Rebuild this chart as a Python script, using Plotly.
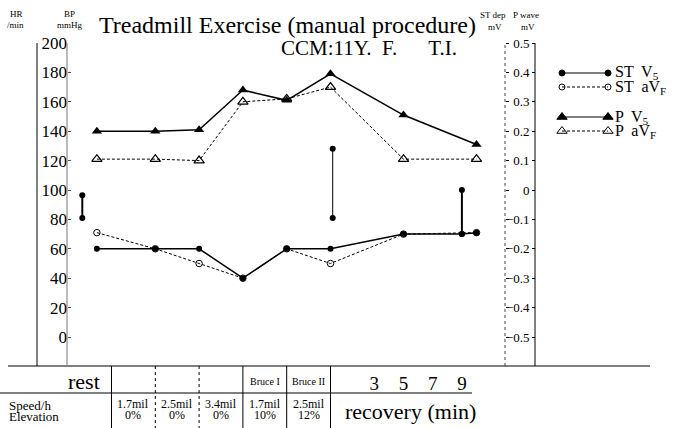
import plotly.graph_objects as go

W, H = 690, 428
SERIF = "Liberation Serif"

# ---------------- data ----------------
time_p = [-16, -12, -9, -6, -3, 0, 5, 10]
p_v5 = [0.20, 0.20, 0.205, 0.34, 0.305, 0.395, 0.255, 0.155]
p_avf = [0.105, 0.105, 0.10, 0.30, 0.31, 0.35, 0.105, 0.105]

time_st_v5 = [-16, -12, -9, -6, -3, 0, 5, 9, 10]
st_v5 = [-0.20, -0.20, -0.20, -0.30, -0.20, -0.20, -0.15, -0.15, -0.145]
time_st_avf = [-16, -12, -9, -6, -3, 0, 5, 10]
st_avf = [-0.145, -0.20, -0.25, -0.30, -0.20, -0.25, -0.15, -0.145]

bp_time = [-17, 0.15, 9]
bp_sys = [96.5, 128, 100]
bp_dia = [81, 81, 70]

stage_bounds = [-15, -12, -9, -6, -3, 0]
stage_speed = ["1.7mil", "2.5mil", "3.4mil", "1.7mil", "2.5mil"]
stage_elev = ["0%", "0%", "0%", "10%", "12%"]
stage_name = ["", "", "", "Bruce I", "Bruce II"]
recovery_ticks = [3, 5, 7, 9]
hr_ticks = [0, 20, 40, 60, 80, 100, 120, 140, 160, 180, 200]
mv_ticks = [0.5, 0.4, 0.3, 0.2, 0.1, 0.0, -0.1, -0.2, -0.3, -0.4, -0.5]
mv_ticktext = ["0.5", "0.4", "0.3", "0.2", "0.1", "0", "\u22120.1", "\u22120.2",
               "\u22120.3", "\u22120.4", "\u22120.5"]

# ---------------- geometry (pixels) ----------------
X_T0 = 330.5          # pixel of t = 0
PX_PER_MIN = 14.6
Y_L0 = 337.0          # pixel of HR/BP = 0
PX_PER_UNIT = 1.47
Y_TOP, Y_BOT = 43.0, 366.0

def px(x):
    return x / W

def py(y):
    return 1 - y / H

x_range = [(0 - X_T0) / PX_PER_MIN, (W - X_T0) / PX_PER_MIN]
L_lo = -(Y_BOT - Y_L0) / PX_PER_UNIT
L_hi = (Y_L0 - Y_TOP) / PX_PER_UNIT
mv_range = [(L_lo - 100) / 200, (L_hi - 100) / 200]
ydom = [py(Y_BOT), py(Y_TOP)]

fig = go.Figure()

# BP bars
bp_widths = [2, 1, 2]
for t, s, d, w in zip(bp_time, bp_sys, bp_dia, bp_widths):
    fig.add_trace(go.Scatter(x=[t, t], y=[s, d], mode="lines+markers", yaxis="y",
                             line=dict(color="black", width=w),
                             marker=dict(symbol="circle", size=6, color="black"),
                             showlegend=False, hoverinfo="skip"))

# ST traces
fig.add_trace(go.Scatter(x=time_st_avf, y=st_avf, yaxis="y2", mode="lines+markers",
                         line=dict(color="black", width=1, dash="3px,2px"),
                         marker=dict(symbol="circle-open", size=6.5, color="black",
                                     line=dict(width=1)),
                         showlegend=False, hoverinfo="skip"))
fig.add_trace(go.Scatter(x=time_st_v5, y=st_v5, yaxis="y2", mode="lines+markers",
                         line=dict(color="black", width=1.5),
                         marker=dict(symbol="circle", size=6, color="black"),
                         showlegend=False, hoverinfo="skip"))
# P traces
fig.add_trace(go.Scatter(x=time_p, y=p_avf, yaxis="y4", mode="lines+markers",
                         line=dict(color="black", width=1, dash="3px,2px"),
                         marker=dict(symbol="triangle-up-open", size=9, color="black",
                                     line=dict(width=1.2)),
                         showlegend=False, hoverinfo="skip"))
fig.add_trace(go.Scatter(x=time_p, y=p_v5, yaxis="y4", mode="lines+markers",
                         line=dict(color="black", width=1.5),
                         marker=dict(symbol="triangle-up", size=9, color="black"),
                         showlegend=False, hoverinfo="skip"))

# ---------------- legend keys (own pixel subplot) ----------------
LEG_X0, LEG_X1, LEG_TX = 562, 608, 613
leg_rows = [
    (73, "solid", 1.2, "circle", 6, "ST  V<sub>5</sub>"),
    (87, "3px,2px", 1, "circle-open", 6, "ST  aV<sub>F</sub>"),
    (117, "solid", 1.2, "triangle-up", 9, "P  V<sub>5</sub>"),
    (131, "3px,2px", 1, "triangle-up-open", 9, "P  aV<sub>F</sub>"),
]
annotations = []
for yy, dash, lw, sym, ms, label in leg_rows:
    fig.add_trace(go.Scatter(x=[LEG_X0, LEG_X1], y=[yy, yy], xaxis="x2", yaxis="y5",
                             mode="lines+markers",
                             line=dict(color="black", width=lw, dash=dash),
                             marker=dict(symbol=sym, size=ms, color="black",
                                         line=dict(width=1, color="black")),
                             showlegend=False, hoverinfo="skip"))
    annotations.append(dict(x=px(LEG_TX), y=py(yy), xref="paper", yref="paper",
                            text=label, showarrow=False, xanchor="left", yanchor="middle",
                            font=dict(family=SERIF, size=16, color="black")))

# ---------------- texts ----------------
def txt(x, y, text, size, anchor="center", **kw):
    annotations.append(dict(x=px(x), y=py(y), xref="paper", yref="paper", text=text,
                            showarrow=False, xanchor=anchor, yanchor="middle",
                            font=dict(family=SERIF, size=size, color="black"), **kw))

txt(97, 25, "Treadmill Exercise (manual procedure)", 24, anchor="left")
txt(279, 48, "CCM:11Y.&nbsp; F.&nbsp;&nbsp;&nbsp;&nbsp;&nbsp; T.I.", 21, anchor="left")
txt(16, 14, "HR", 9)
txt(15, 25, "/min", 9)
txt(69, 14, "BP", 9)
txt(70, 25, "mmHg", 9)
txt(493, 15, "ST dep", 9)
txt(495, 27, "mV", 9)
txt(526, 15, "P wave", 9)
txt(528, 27, "mV", 9)

txt(102, 381, "rest", 22, anchor="right")
txt(7, 405, "Speed/h", 13, anchor="left")
txt(7, 416, "Elevation", 13, anchor="left")
txt(343, 411, "recovery (min)", 22, anchor="left")

for i in range(len(stage_speed)):
    mid = (stage_bounds[i] + stage_bounds[i + 1]) / 2
    for yy, t, s in [(381, stage_name[i], 10), (404, stage_speed[i], 12),
                     (415, stage_elev[i], 12)]:
        if t:
            annotations.append(dict(x=mid, y=py(yy), xref="x", yref="paper", text=t,
                                    showarrow=False, xanchor="center", yanchor="middle",
                                    font=dict(family=SERIF, size=s, color="black")))

# ---------------- shapes ----------------
shapes = []
# baseline
shapes.append(dict(type="line", xref="paper", yref="paper", x0=px(8), x1=px(650),
                   y0=py(Y_BOT), y1=py(Y_BOT), line=dict(color="black", width=1)))
# row divider in table
shapes.append(dict(type="line", xref="paper", yref="paper", x0=0, x1=px(472),
                   y0=py(393), y1=py(393), line=dict(color="black", width=1)))
# stage boundaries
for i, b in enumerate(stage_bounds):
    dotted = i in (1, 2)
    shapes.append(dict(type="line", xref="x", yref="paper", x0=b, x1=b,
                       y0=py(Y_BOT), y1=0,
                       line=dict(color="black", width=1, dash="dot" if dotted else "solid")))
# axis lines
for xl, col, dash in [(37, "black", "solid"), (67, "#777", "solid"),
                      (505, "#444", "dot"), (535, "black", "solid")]:
    shapes.append(dict(type="line", xref="paper", yref="paper", x0=px(xl), x1=px(xl),
                       y0=py(Y_BOT), y1=py(Y_TOP), line=dict(color=col, width=1, dash=dash)))

fig.update_layout(
    width=W, height=H,
    margin=dict(l=0, r=0, t=0, b=0),
    paper_bgcolor="white", plot_bgcolor="rgba(0,0,0,0)",
    showlegend=False,
    font=dict(family=SERIF, color="black"),
    xaxis=dict(domain=[0, 1], range=x_range, anchor="y", showgrid=False, zeroline=False,
               showline=False, tickmode="array", tickvals=recovery_ticks,
               ticktext=[str(v) for v in recovery_ticks], ticks="",
               tickfont=dict(family=SERIF, size=19, color="black"),
               ticklabelstandoff=4, automargin=False, fixedrange=True),
    yaxis=dict(domain=ydom, range=[L_lo, L_hi], anchor="free", position=px(67),
               side="left", showgrid=False, zeroline=False, showline=False,
               ticks="inside", ticklen=3,
               tickcolor="#555", tickmode="array", tickvals=hr_ticks,
               tickfont=dict(family=SERIF, size=17, color="black"),
               automargin=False, fixedrange=True),
    yaxis3=dict(range=[L_lo, L_hi], overlaying="y", anchor="free", position=px(37),
                side="right", showgrid=False, zeroline=False, showline=False,
                ticks="outside", ticklen=3,
                tickcolor="black", tickmode="array", tickvals=hr_ticks,
                showticklabels=False, automargin=False, fixedrange=True),
    yaxis2=dict(range=mv_range, overlaying="y", anchor="free", position=px(535),
                side="left", showgrid=False, zeroline=False, showline=False,
                ticks="outside", ticklen=3,
                tickcolor="black", tickmode="array", tickvals=mv_ticks,
                ticktext=mv_ticktext,
                tickfont=dict(family=SERIF, size=13, color="black"),
                automargin=False, fixedrange=True),
    yaxis4=dict(range=mv_range, overlaying="y", anchor="free", position=px(505),
                side="right", showgrid=False, zeroline=False, showline=False,
                ticks="outside", ticklen=3, tickcolor="black", tickmode="array",
                tickvals=mv_ticks, showticklabels=False, automargin=False,
                fixedrange=True),
    xaxis2=dict(domain=[0, 1], range=[0, W], anchor="y5", visible=False, fixedrange=True),
    yaxis5=dict(domain=[0, 1], range=[H, 0], anchor="x2", visible=False, fixedrange=True),
    annotations=annotations,
    shapes=shapes,
)

fig.write_html("out.html", config={"displayModeBar": False},
               post_script="document.body.style.margin='0';")
